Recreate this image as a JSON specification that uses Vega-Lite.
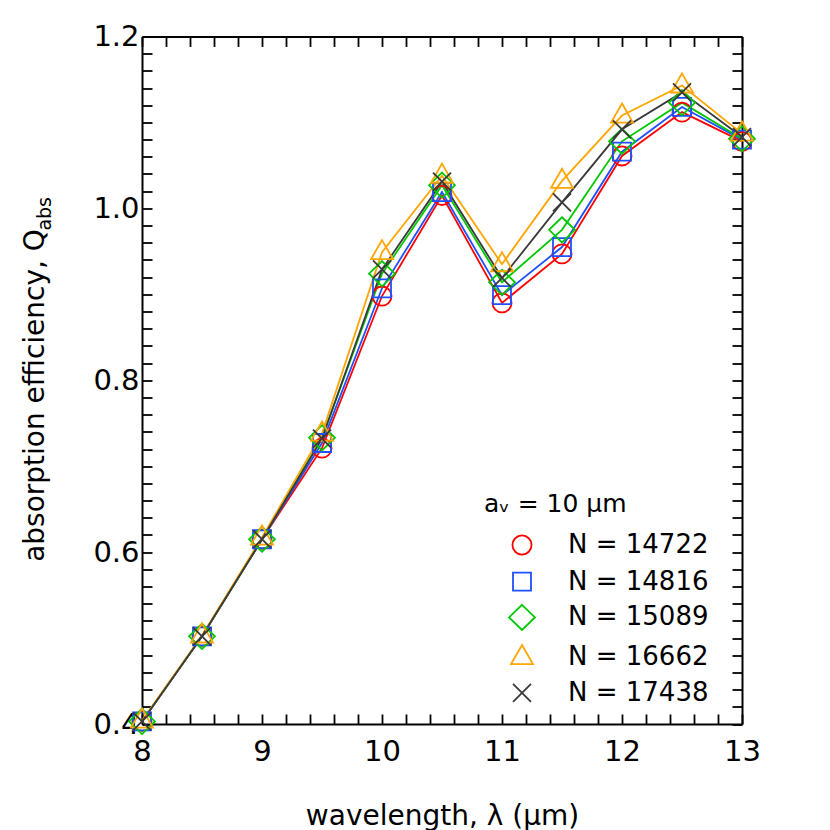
{
  "$schema": "https://vega.github.io/schema/vega-lite/v6.json",
  "width": 600,
  "height": 687.5,
  "autosize": {"type": "none"},
  "padding": {"left": 142, "top": 36.5, "right": 88, "bottom": 106},
  "background": "white",
  "config": {
    "view": {"stroke": null},
    "font": "DejaVu Sans"
  },
  "title": {
    "text": "abs",
    "orient": "left",
    "anchor": "end",
    "frame": "group",
    "fontSize": 19,
    "fontWeight": "normal",
    "font": "DejaVu Sans",
    "color": "black",
    "baseline": "alphabetic",
    "offset": -49,
    "dx": -160.5
  },
  "data": {
    "values": [
      {"series": "N = 14722", "lambda": 8, "Q": 0.403},
      {"series": "N = 14722", "lambda": 8.5, "Q": 0.502},
      {"series": "N = 14722", "lambda": 9, "Q": 0.615},
      {"series": "N = 14722", "lambda": 9.5, "Q": 0.721},
      {"series": "N = 14722", "lambda": 10, "Q": 0.898},
      {"series": "N = 14722", "lambda": 10.5, "Q": 1.015},
      {"series": "N = 14722", "lambda": 11, "Q": 0.890},
      {"series": "N = 14722", "lambda": 11.5, "Q": 0.947},
      {"series": "N = 14722", "lambda": 12, "Q": 1.061},
      {"series": "N = 14722", "lambda": 12.5, "Q": 1.112},
      {"series": "N = 14722", "lambda": 13, "Q": 1.078},
      {"series": "N = 14816", "lambda": 8, "Q": 0.403},
      {"series": "N = 14816", "lambda": 8.5, "Q": 0.502},
      {"series": "N = 14816", "lambda": 9, "Q": 0.615},
      {"series": "N = 14816", "lambda": 9.5, "Q": 0.727},
      {"series": "N = 14816", "lambda": 10, "Q": 0.907},
      {"series": "N = 14816", "lambda": 10.5, "Q": 1.019},
      {"series": "N = 14816", "lambda": 11, "Q": 0.899},
      {"series": "N = 14816", "lambda": 11.5, "Q": 0.955},
      {"series": "N = 14816", "lambda": 12, "Q": 1.066},
      {"series": "N = 14816", "lambda": 12.5, "Q": 1.118},
      {"series": "N = 14816", "lambda": 13, "Q": 1.080},
      {"series": "N = 15089", "lambda": 8, "Q": 0.403},
      {"series": "N = 15089", "lambda": 8.5, "Q": 0.502},
      {"series": "N = 15089", "lambda": 9, "Q": 0.615},
      {"series": "N = 15089", "lambda": 9.5, "Q": 0.733},
      {"series": "N = 15089", "lambda": 10, "Q": 0.924},
      {"series": "N = 15089", "lambda": 10.5, "Q": 1.027},
      {"series": "N = 15089", "lambda": 11, "Q": 0.914},
      {"series": "N = 15089", "lambda": 11.5, "Q": 0.975},
      {"series": "N = 15089", "lambda": 12, "Q": 1.078},
      {"series": "N = 15089", "lambda": 12.5, "Q": 1.123},
      {"series": "N = 15089", "lambda": 13, "Q": 1.081},
      {"series": "N = 16662", "lambda": 8, "Q": 0.404},
      {"series": "N = 16662", "lambda": 8.5, "Q": 0.503},
      {"series": "N = 16662", "lambda": 9, "Q": 0.617},
      {"series": "N = 16662", "lambda": 9.5, "Q": 0.738},
      {"series": "N = 16662", "lambda": 10, "Q": 0.949},
      {"series": "N = 16662", "lambda": 10.5, "Q": 1.038},
      {"series": "N = 16662", "lambda": 11, "Q": 0.935},
      {"series": "N = 16662", "lambda": 11.5, "Q": 1.032},
      {"series": "N = 16662", "lambda": 12, "Q": 1.108},
      {"series": "N = 16662", "lambda": 12.5, "Q": 1.143},
      {"series": "N = 16662", "lambda": 13, "Q": 1.087},
      {"series": "N = 17438", "lambda": 8, "Q": 0.403},
      {"series": "N = 17438", "lambda": 8.5, "Q": 0.502},
      {"series": "N = 17438", "lambda": 9, "Q": 0.615},
      {"series": "N = 17438", "lambda": 9.5, "Q": 0.732},
      {"series": "N = 17438", "lambda": 10, "Q": 0.929},
      {"series": "N = 17438", "lambda": 10.5, "Q": 1.031},
      {"series": "N = 17438", "lambda": 11, "Q": 0.919},
      {"series": "N = 17438", "lambda": 11.5, "Q": 1.007},
      {"series": "N = 17438", "lambda": 12, "Q": 1.092},
      {"series": "N = 17438", "lambda": 12.5, "Q": 1.135},
      {"series": "N = 17438", "lambda": 13, "Q": 1.083}
    ]
  },
  "layer": [
    {
      "mark": {"type": "line", "strokeWidth": 1.8},
      "encoding": {
        "x": {
          "field": "lambda",
          "type": "quantitative",
          "scale": {"domain": [8, 13], "nice": false, "zero": false},
          "axis": {
            "orient": "bottom",
            "values": [8, 8.2, 8.4, 8.6, 8.8, 9, 9.2, 9.4, 9.6, 9.8, 10, 10.2, 10.4, 10.6, 10.8, 11, 11.2, 11.4, 11.6, 11.8, 12, 12.2, 12.4, 12.6, 12.8, 13],
            "grid": false,
            "domainColor": "black",
            "domainWidth": 2,
            "tickColor": "black",
            "tickWidth": 1.8,
            "tickSize": -10,
            "labelFont": "DejaVu Sans",
            "labelFontSize": 29,
            "labelColor": "black",
            "labelPadding": 23,
            "labelOverlap": false,
            "labelFlush": false,
            "labelExpr": "abs(datum.value - round(datum.value)) < 0.01 ? format(datum.value, 'd') : ''",
            "title": "wavelength, λ (μm)",
            "titleFont": "DejaVu Sans",
            "titleFontSize": 28,
            "titleFontWeight": "normal",
            "titleColor": "black",
            "titleBaseline": "alphabetic",
            "titleX": 300,
            "titleY": 100,
            "encode": {
              "ticks": {"update": {"y2": {"signal": "abs(datum.value - round(datum.value)) < 0.01 ? -10 : -5"}}}
            }
          }
        },
        "y": {
          "field": "Q",
          "type": "quantitative",
          "scale": {"domain": [0.4, 1.2], "nice": false, "zero": false},
          "axis": {
            "orient": "left",
            "values": [0.4, 0.42, 0.44, 0.46, 0.48, 0.5, 0.52, 0.54, 0.56, 0.58, 0.6, 0.62, 0.64, 0.66, 0.68, 0.7, 0.72, 0.74, 0.76, 0.78, 0.8, 0.82, 0.84, 0.86, 0.88, 0.9, 0.92, 0.94, 0.96, 0.98, 1.0, 1.02, 1.04, 1.06, 1.08, 1.1, 1.12, 1.14, 1.16, 1.18, 1.2],
            "grid": false,
            "domainColor": "black",
            "domainWidth": 2,
            "tickColor": "black",
            "tickWidth": 1.8,
            "tickSize": -10,
            "labelFont": "DejaVu Sans",
            "labelFontSize": 29,
            "labelColor": "black",
            "labelPadding": 13,
            "labelOverlap": false,
            "labelFlush": false,
            "labelExpr": "abs(datum.value * 5 - round(datum.value * 5)) < 0.01 ? format(datum.value, '.1f') : ''",
            "title": "absorption efficiency, Q",
            "titleFont": "DejaVu Sans",
            "titleFontSize": 28,
            "titleFontWeight": "normal",
            "titleColor": "black",
            "titleAngle": 270,
            "titleBaseline": "alphabetic",
            "titleAlign": "center",
            "titleX": -99,
            "titleY": 358.5,
            "encode": {
              "ticks": {"update": {"x2": {"signal": "abs(datum.value * 5 - round(datum.value * 5)) < 0.01 ? 10 : 5"}}}
            }
          }
        },
        "color": {
          "field": "series",
          "type": "nominal",
          "scale": {
            "domain": ["N = 14722", "N = 14816", "N = 15089", "N = 16662", "N = 17438"],
            "range": ["#ff0000", "#1e50ff", "#00c800", "#ffa500", "#3a3a3a"]
          }
        }
      }
    },
    {
      "mark": {"type": "point", "filled": false, "strokeWidth": 1.8, "size": 1296, "opacity": 1},
      "encoding": {
        "x": {
          "field": "lambda",
          "type": "quantitative",
          "axis": {
            "orient": "top",
            "values": [8, 8.2, 8.4, 8.6, 8.8, 9, 9.2, 9.4, 9.6, 9.8, 10, 10.2, 10.4, 10.6, 10.8, 11, 11.2, 11.4, 11.6, 11.8, 12, 12.2, 12.4, 12.6, 12.8, 13],
            "grid": false,
            "labels": false,
            "title": null,
            "domainColor": "black",
            "domainWidth": 2,
            "tickColor": "black",
            "tickWidth": 1.8,
            "tickSize": -10,
            "encode": {
              "ticks": {"update": {"y2": {"signal": "abs(datum.value - round(datum.value)) < 0.01 ? 10 : 5"}}}
            }
          }
        },
        "y": {
          "field": "Q",
          "type": "quantitative",
          "axis": {
            "orient": "right",
            "values": [0.4, 0.42, 0.44, 0.46, 0.48, 0.5, 0.52, 0.54, 0.56, 0.58, 0.6, 0.62, 0.64, 0.66, 0.68, 0.7, 0.72, 0.74, 0.76, 0.78, 0.8, 0.82, 0.84, 0.86, 0.88, 0.9, 0.92, 0.94, 0.96, 0.98, 1.0, 1.02, 1.04, 1.06, 1.08, 1.1, 1.12, 1.14, 1.16, 1.18, 1.2],
            "grid": false,
            "labels": false,
            "title": null,
            "domainColor": "black",
            "domainWidth": 2,
            "tickColor": "black",
            "tickWidth": 1.8,
            "tickSize": -10,
            "encode": {
              "ticks": {"update": {"x2": {"signal": "abs(datum.value * 5 - round(datum.value * 5)) < 0.01 ? -10 : -5"}}}
            }
          }
        },
        "color": {
          "field": "series",
          "type": "nominal",
          "legend": {
            "title": "aᵥ = 10 μm",
            "orient": "none",
            "legendX": 342,
            "legendY": 455.5,
            "padding": 0,
            "titleFont": "DejaVu Sans",
            "titleFontSize": 25,
            "titleFontWeight": "normal",
            "titleColor": "black",
            "titlePadding": 9,
            "labelFont": "DejaVu Sans",
            "labelFontSize": 26,
            "labelColor": "black",
            "labelOffset": 27,
            "labelLimit": 300,
            "symbolSize": 1296,
            "symbolStrokeWidth": 1.8,
            "symbolOffset": 19,
            "rowPadding": 3.7
          }
        },
        "shape": {
          "field": "series",
          "type": "nominal",
          "scale": {
            "domain": ["N = 14722", "N = 14816", "N = 15089", "N = 16662", "N = 17438"],
            "range": [
              "M-0.53,0A0.53,0.53,0,1,0,0.53,0A0.53,0.53,0,1,0,-0.53,0Z",
              "M-0.5,-0.5L0.5,-0.5L0.5,0.5L-0.5,0.5Z",
              "M0,-0.7L0.72,0L0,0.7L-0.72,0Z",
              "M0,-0.67L0.61,0.39L-0.61,0.39Z",
              "M-0.5,-0.5L0.5,0.5M-0.5,0.5L0.5,-0.5"
            ]
          },
          "legend": {
            "title": "aᵥ = 10 μm",
            "orient": "none",
            "legendX": 342,
            "legendY": 455.5,
            "padding": 0,
            "titleFont": "DejaVu Sans",
            "titleFontSize": 25,
            "titleFontWeight": "normal",
            "titleColor": "black",
            "titlePadding": 9,
            "labelFont": "DejaVu Sans",
            "labelFontSize": 26,
            "labelColor": "black",
            "labelOffset": 27,
            "labelLimit": 300,
            "symbolSize": 1296,
            "symbolStrokeWidth": 1.8,
            "symbolOffset": 19,
            "rowPadding": 3.7
          }
        }
      }
    }
  ],
  "resolve": {"axis": {"x": "independent", "y": "independent"}}
}
